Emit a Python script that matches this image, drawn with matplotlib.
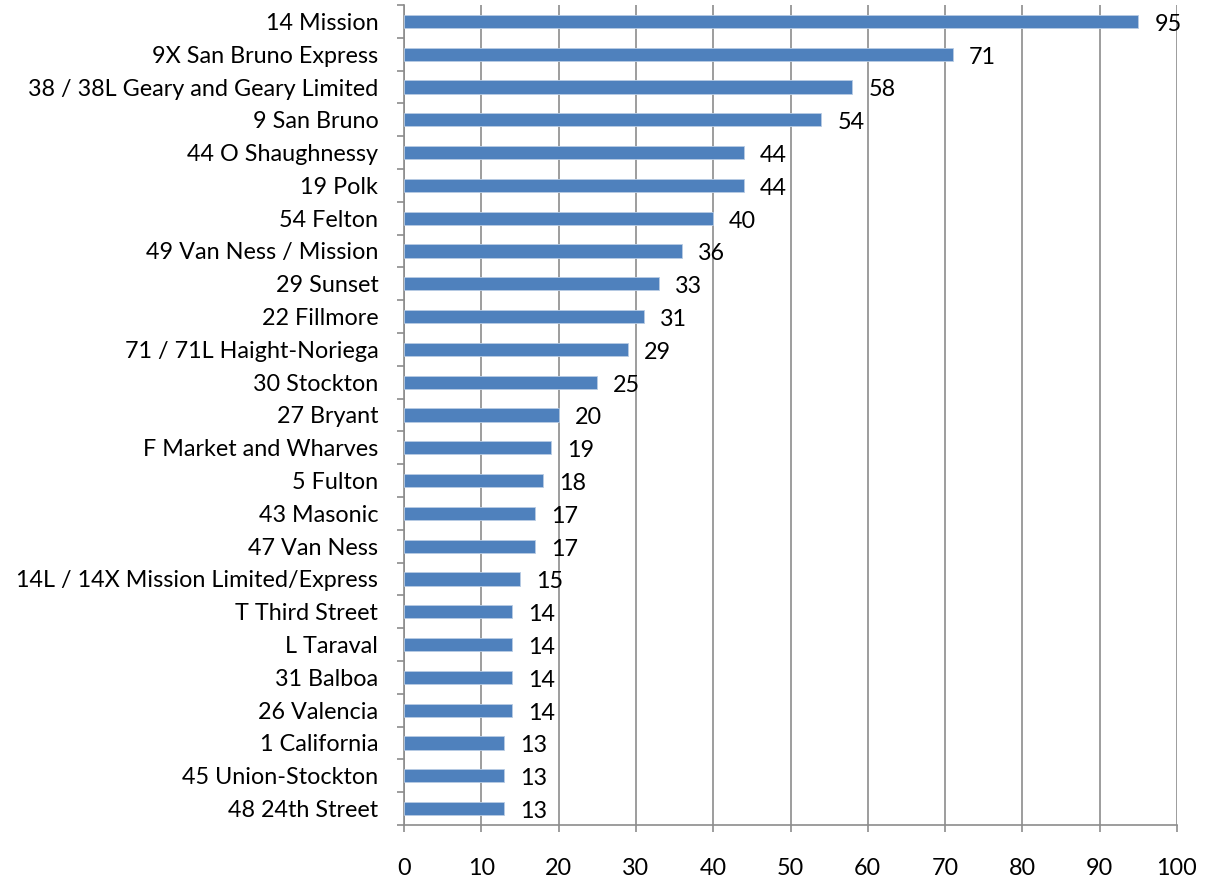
import matplotlib
matplotlib.use("Agg")
import matplotlib.pyplot as plt
from matplotlib.transforms import offset_copy

categories = ["14 Mission", "9X San Bruno Express", "38 / 38L Geary and Geary Limited",
              "9 San Bruno", "44 O Shaughnessy", "19 Polk", "54 Felton",
              "49 Van Ness / Mission", "29 Sunset", "22 Fillmore", "71 / 71L Haight-Noriega",
              "30 Stockton", "27 Bryant", "F Market and Wharves", "5 Fulton", "43 Masonic",
              "47 Van Ness", "14L / 14X Mission Limited/Express", "T Third Street", "L Taraval",
              "31 Balboa", "26 Valencia", "1 California", "45 Union-Stockton", "48 24th Street"]
values = [95, 71, 58, 54, 44, 44, 40, 36, 33, 31, 29, 25, 20, 19, 18, 17, 17, 15,
          14, 14, 14, 14, 13, 13, 13]
x_ticks = [0, 10, 20, 30, 40, 50, 60, 70, 80, 90, 100]

plt.rcParams['font.family'] = ['Lato', 'DejaVu Sans']
FS = 16.8

fig = plt.figure(figsize=(12.05, 8.82), dpi=100)
ax = fig.add_axes([404/1205, 1 - 825/882, (1177 - 404)/1205, (825 - 5)/882])

n = len(categories)
ypos = list(range(n))
ax.barh(ypos, values, height=0.4, color='#4F81BD', edgecolor='#B8CCE4', linewidth=0.6, zorder=3)

ax.set_xlim(0, 100)
ax.set_ylim(n - 0.5, -0.5)
ax.set_xticks(x_ticks)
ax.set_xticklabels([str(t) for t in x_ticks], fontsize=FS)
ax.grid(axis='x', color='#8C8C8C', linewidth=1.2, zorder=0)

ax.set_yticks(ypos)
ax.set_yticklabels(categories, fontsize=FS)
ax.tick_params(axis='y', length=0, pad=18.5)
# category boundary ticks
ax.set_yticks([i - 0.5 for i in range(n + 1)], minor=True)
ax.tick_params(axis='y', which='minor', length=5, color='#8C8C8C', width=1.2)
ax.tick_params(axis='x', length=5, color='#8C8C8C', width=1.2, pad=19)

for s in ['top', 'right']:
    ax.spines[s].set_visible(False)
for s in ['left', 'bottom']:
    ax.spines[s].set_color('#8C8C8C')
    ax.spines[s].set_linewidth(1.2)

trans = offset_copy(ax.transData, fig=fig, x=16, y=-3, units='dots')
for y, v in zip(ypos, values):
    ax.text(v, y, str(v), transform=trans, ha='left', va='center', fontsize=FS, zorder=4)

fig.savefig("out.png", dpi=100)
